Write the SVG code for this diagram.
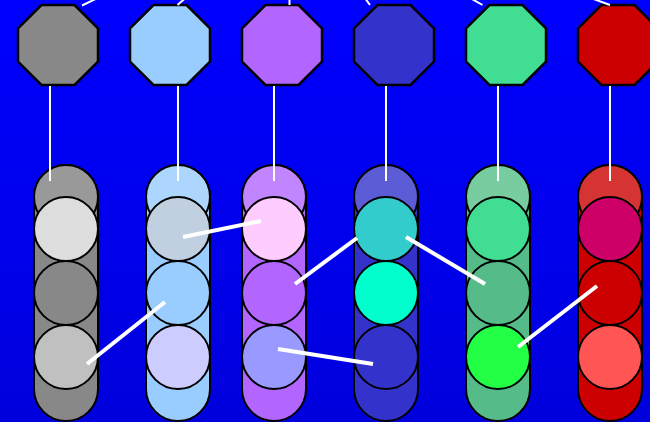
<svg xmlns="http://www.w3.org/2000/svg" xmlns:xlink="http://www.w3.org/1999/xlink" width="650" height="422" viewBox="0 0 650 422">
<defs>
<linearGradient id="bg" x1="0" y1="0" x2="0" y2="1">
<stop offset="0" stop-color="#0000FF"/>
<stop offset="1" stop-color="#0000DD"/>
</linearGradient>
<polygon id="oct" points="-16.57,-40 16.57,-40 40,-16.57 40,16.57 16.57,40 -16.57,40 -40,16.57 -40,-16.57"/>
</defs>
<style>
.o{stroke:#000;stroke-width:2.5}
.b,.c{stroke:#000;stroke-width:2}
.thin{stroke:#fff;stroke-width:2;fill:none}
.thick{stroke:#fff;stroke-width:4;fill:none}
</style>
<rect x="0" y="0" width="650" height="422" fill="url(#bg)"/>
<g id="col1">
<use xlink:href="#oct" class="o" x="58" y="45" fill="#888888"/>
<rect class="b" x="34" y="165" width="64" height="256" rx="32" fill="#888888"/>
<circle class="c" cx="66" cy="197" r="32" fill="#999999"/>
<circle class="c" cx="66" cy="229" r="32" fill="#DDDDDD"/>
<circle class="c" cx="66" cy="293" r="32" fill="#888888"/>
<circle class="c" cx="66" cy="357" r="32" fill="#C0C0C0"/>
</g>
<g id="col2">
<use xlink:href="#oct" class="o" x="170" y="45" fill="#99CCFF"/>
<rect class="b" x="146" y="165" width="64" height="256" rx="32" fill="#99CCFF"/>
<circle class="c" cx="178" cy="197" r="32" fill="#ADD6FF"/>
<circle class="c" cx="178" cy="229" r="32" fill="#C0D0E0"/>
<circle class="c" cx="178" cy="293" r="32" fill="#99CCFF"/>
<circle class="c" cx="178" cy="357" r="32" fill="#CCCCFF"/>
</g>
<g id="col3">
<use xlink:href="#oct" class="o" x="282" y="45" fill="#B266FF"/>
<rect class="b" x="242" y="165" width="64" height="256" rx="32" fill="#B266FF"/>
<circle class="c" cx="274" cy="197" r="32" fill="#C185FF"/>
<circle class="c" cx="274" cy="229" r="32" fill="#FFCCFF"/>
<circle class="c" cx="274" cy="293" r="32" fill="#B266FF"/>
<circle class="c" cx="274" cy="357" r="32" fill="#9999FF"/>
</g>
<g id="col4">
<use xlink:href="#oct" class="o" x="394" y="45" fill="#3333CC"/>
<rect class="b" x="354" y="165" width="64" height="256" rx="32" fill="#3333CC"/>
<circle class="c" cx="386" cy="197" r="32" fill="#5C5CD6"/>
<circle class="c" cx="386" cy="229" r="32" fill="#33CCCC"/>
<circle class="c" cx="386" cy="293" r="32" fill="#00FFCC"/>
<circle class="c" cx="386" cy="357" r="32" fill="#3333CC"/>
</g>
<g id="col5">
<use xlink:href="#oct" class="o" x="506" y="45" fill="#40DD92"/>
<rect class="b" x="466" y="165" width="64" height="256" rx="32" fill="#55BB88"/>
<circle class="c" cx="498" cy="197" r="32" fill="#77CCA0"/>
<circle class="c" cx="498" cy="229" r="32" fill="#40DD92"/>
<circle class="c" cx="498" cy="293" r="32" fill="#55BB88"/>
<circle class="c" cx="498" cy="357" r="32" fill="#22FF44"/>
</g>
<g id="col6">
<use xlink:href="#oct" class="o" x="618" y="45" fill="#CC0000"/>
<rect class="b" x="578" y="165" width="64" height="256" rx="32" fill="#CC0000"/>
<circle class="c" cx="610" cy="197" r="32" fill="#D63333"/>
<circle class="c" cx="610" cy="229" r="32" fill="#CC0066"/>
<circle class="c" cx="610" cy="293" r="32" fill="#CC0000"/>
<circle class="c" cx="610" cy="357" r="32" fill="#FF5555"/>
</g>
<g id="connectors">
<line class="thin" x1="50" y1="86" x2="50" y2="181"/>
<line class="thin" x1="178" y1="86" x2="178" y2="181"/>
<line class="thin" x1="274" y1="86" x2="274" y2="181"/>
<line class="thin" x1="386" y1="86" x2="386" y2="181"/>
<line class="thin" x1="498" y1="86" x2="498" y2="181"/>
<line class="thin" x1="610" y1="86" x2="610" y2="181"/>
<line class="thin" x1="82" y1="5.5" x2="106" y2="-6"/>
<line class="thin" x1="177.5" y1="5" x2="190" y2="-6"/>
<line class="thin" x1="289.5" y1="5" x2="289.5" y2="-6"/>
<line class="thin" x1="370" y1="5" x2="362" y2="-6"/>
<line class="thin" x1="482.5" y1="5" x2="463" y2="-6"/>
<line class="thin" x1="610" y1="5" x2="580" y2="-6"/>
<line class="thick" x1="87" y1="364" x2="165" y2="302"/>
<line class="thick" x1="183" y1="237" x2="261" y2="221"/>
<line class="thick" x1="295" y1="284" x2="357" y2="238"/>
<line class="thick" x1="278" y1="349" x2="373" y2="364"/>
<line class="thick" x1="406" y1="237" x2="485" y2="284"/>
<line class="thick" x1="518" y1="347" x2="597" y2="286"/>
</g>
</svg>
